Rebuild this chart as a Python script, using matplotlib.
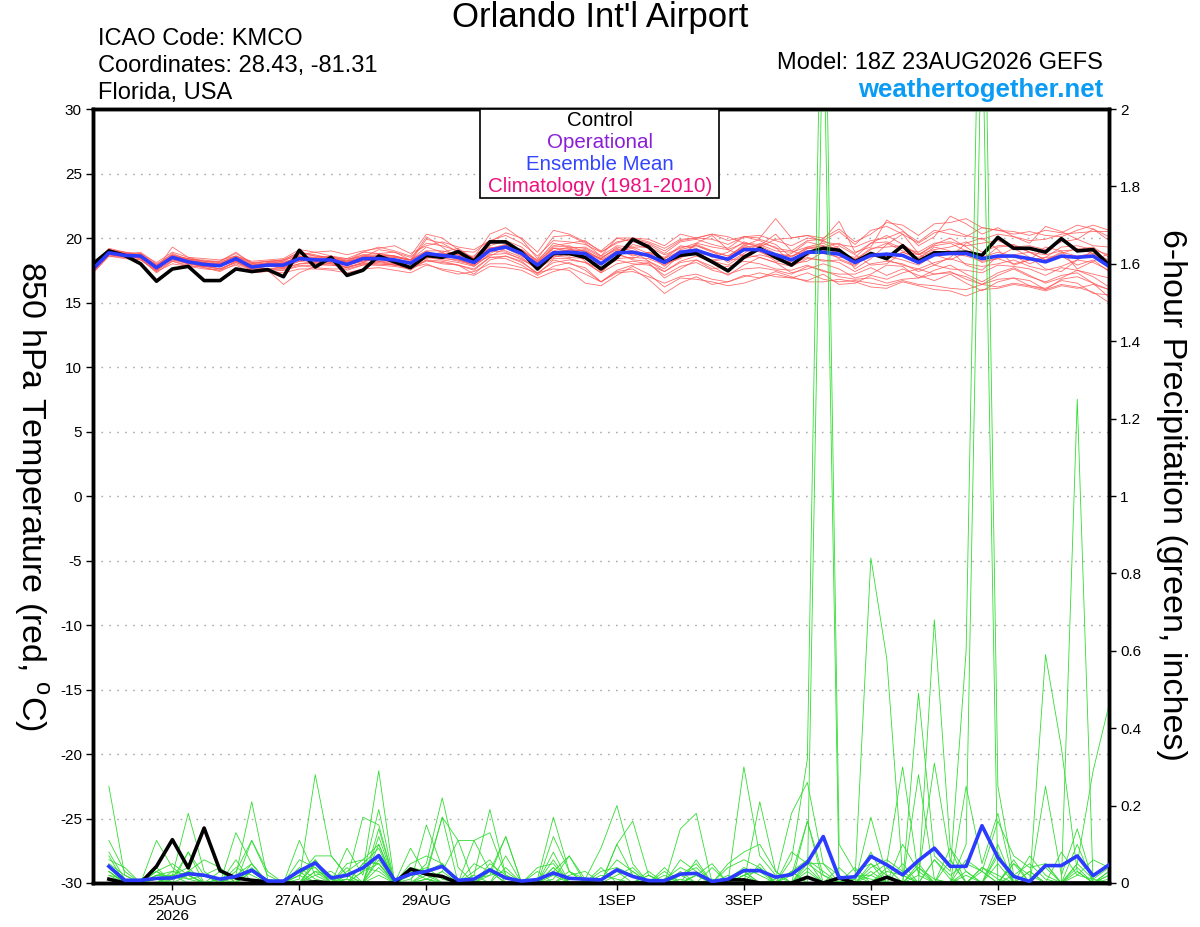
import numpy as np
import pandas as pd
import matplotlib
matplotlib.use("Agg")
import matplotlib.pyplot as plt
import matplotlib.dates as mdates

plt.rcParams['font.family'] = ['Liberation Sans', 'DejaVu Sans']

# ---------------- DATA ----------------
times = pd.date_range('2026-08-23 18:00', periods=65, freq='6h')
precip_times = times[1:]

tick_dates = ['2026-08-25', '2026-08-27', '2026-08-29', '2026-09-01',
              '2026-09-03', '2026-09-05', '2026-09-07']
tick_labels = ['25AUG\n2026', '27AUG', '29AUG', '1SEP', '3SEP', '5SEP', '7SEP']

temp_ticks = [-30, -25, -20, -15, -10, -5, 0, 5, 10, 15, 20, 25, 30]
precip_ticks = [0, 0.2, 0.4, 0.6, 0.8, 1, 1.2, 1.4, 1.6, 1.8, 2]
precip_labels = ['0', '0.2', '0.4', '0.6', '0.8', '1', '1.2', '1.4', '1.6', '1.8', '2']

# 850 hPa temperature: control and ensemble mean
temp_control = [18.0, 19.0, 18.65, 18.0, 16.65, 17.6, 17.8, 16.7, 16.7, 17.6, 17.4, 17.55, 17.0,
                19.05, 17.75, 18.5, 17.1, 17.5, 18.6, 18.15, 17.7, 18.65, 18.5, 18.95, 18.2, 19.7,
                19.7, 18.9, 17.6, 18.8, 18.8, 18.5, 17.6, 18.5, 19.9, 19.3, 18.15, 18.66, 18.8,
                18.15, 17.45, 18.5, 19.2, 18.5, 17.9, 18.85, 19.2, 19.05, 18.15, 18.8, 18.4, 19.4,
                18.2, 18.85, 18.85, 18.9, 18.65, 20.05, 19.2, 19.2, 18.9, 19.95, 19.0, 19.1, 17.9]
temp_mean = [17.6, 18.85, 18.65, 18.6, 17.7, 18.5, 18.15, 17.95, 17.85, 18.4, 17.75, 17.9, 17.9,
             18.4, 18.3, 18.3, 17.95, 18.4, 18.4, 18.3, 18.05, 18.8, 18.65, 18.5, 18.1, 19.05,
             19.3, 18.8, 17.9, 18.85, 18.9, 18.8, 18.0, 18.85, 18.9, 18.65, 18.1, 18.9, 19.05,
             18.65, 18.35, 19.1, 19.1, 18.7, 18.3, 18.9, 18.9, 18.75, 18.1, 18.65, 18.75, 18.65,
             18.1, 18.7, 18.8, 18.8, 18.4, 18.6, 18.6, 18.4, 18.15, 18.6, 18.5, 18.6, 17.8]

# 850 hPa temperature: ensemble members
temp_m01 = [17.9, 19.0, 18.9, 18.8, 17.9, 18.8, 18.3, 18.3, 18.1, 18.6, 18.0, 18.2, 18.3,
            18.9, 18.6, 18.5, 18.4, 18.9, 18.8, 18.9, 18.5, 19.6, 19.4, 19.0, 18.9, 19.8,
            20.2, 19.6, 18.6, 19.8, 19.7, 19.5, 18.9, 19.7, 19.9, 19.6, 19.0, 19.8, 20.0,
            19.9, 19.5, 20.1, 20.2, 19.8, 19.4, 20.0, 19.8, 20.5, 19.5, 20.6, 20.9, 20.3,
            19.6, 20.4, 20.7, 20.2, 19.9, 20.3, 20.1, 19.8, 19.9, 20.3, 20.4, 20.5, 20.5]
temp_m02 = [17.3, 18.6, 18.4, 18.3, 17.4, 18.0, 17.8, 17.6, 17.5, 17.9, 17.3, 17.4, 17.3,
            17.6, 17.6, 17.5, 17.3, 17.6, 17.7, 17.5, 17.3, 17.9, 17.6, 17.4, 17.1, 17.8,
            17.7, 17.5, 16.9, 17.4, 17.7, 17.2, 16.6, 17.3, 17.4, 17.0, 16.5, 17.0, 17.2,
            16.8, 16.6, 17.1, 16.9, 17.2, 16.9, 17.3, 16.8, 16.6, 16.7, 16.5, 16.3, 16.7,
            16.4, 16.3, 16.1, 16.0, 16.4, 16.2, 16.5, 16.3, 16.0, 16.4, 16.2, 15.8, 15.0]
temp_m03 = [17.7, 19.1, 18.8, 18.5, 17.6, 19.3, 18.5, 18.2, 18.2, 18.9, 18.0, 18.2, 18.0,
            18.7, 18.9, 18.6, 18.2, 18.5, 19.1, 18.9, 18.3, 20.1, 19.3, 18.4, 17.8, 18.8,
            19.4, 19.1, 18.2, 19.6, 19.3, 18.2, 17.3, 18.6, 19.5, 19.2, 18.0, 18.4, 19.6,
            20.2, 19.1, 18.6, 19.4, 20.3, 19.0, 18.6, 19.8, 19.2, 17.6, 18.4, 19.5, 20.3,
            18.8, 17.9, 18.5, 19.6, 20.0, 19.1, 17.9, 18.3, 19.3, 19.0, 17.6, 18.2, 18.8]
temp_m04 = [17.5, 18.7, 18.5, 18.7, 17.9, 18.4, 18.0, 17.8, 17.6, 18.1, 17.7, 17.6, 17.6,
            18.0, 18.1, 18.4, 18.2, 18.7, 18.2, 17.9, 18.0, 18.4, 18.8, 18.7, 18.3, 19.3,
            19.0, 18.5, 17.5, 18.6, 19.1, 19.0, 18.4, 19.3, 19.0, 18.2, 17.6, 18.7, 19.5,
            19.0, 18.1, 18.8, 19.6, 19.3, 18.0, 18.2, 18.9, 19.4, 18.7, 17.9, 18.0, 18.9,
            18.4, 19.3, 19.0, 17.9, 17.5, 18.6, 19.2, 18.5, 17.6, 17.4, 18.3, 19.0, 18.2]
temp_m05 = [17.8, 19.2, 18.9, 18.4, 17.4, 18.6, 18.4, 18.1, 17.9, 18.3, 17.6, 18.1, 18.2,
            18.3, 18.2, 18.0, 17.7, 18.1, 18.6, 18.6, 18.3, 19.0, 18.5, 18.6, 18.6, 19.6,
            19.7, 18.9, 17.6, 18.9, 18.6, 18.9, 18.4, 19.2, 18.6, 18.9, 18.5, 19.4, 19.2,
            18.5, 18.9, 19.7, 19.3, 18.4, 18.8, 19.7, 19.4, 18.7, 18.5, 19.6, 20.2, 19.5,
            18.7, 19.5, 20.0, 19.3, 18.5, 18.9, 18.6, 18.0, 18.5, 19.3, 19.4, 19.1, 18.7]
temp_m06 = [17.4, 18.9, 18.6, 18.6, 17.5, 18.3, 18.1, 17.9, 17.8, 18.5, 17.4, 17.5, 16.4,
            17.3, 17.8, 18.1, 17.5, 17.9, 18.2, 18.0, 17.5, 18.3, 18.0, 17.9, 17.2, 18.3,
            18.6, 18.2, 17.2, 18.3, 18.0, 17.7, 16.6, 17.5, 17.9, 18.1, 16.9, 17.6, 18.3,
            17.8, 17.1, 17.9, 18.5, 18.1, 17.3, 17.6, 18.0, 17.6, 16.9, 17.2, 17.9, 17.8,
            16.9, 17.5, 17.9, 17.2, 16.6, 17.3, 17.7, 17.1, 16.5, 16.9, 17.5, 17.0, 16.2]
temp_m07 = [17.6, 18.8, 18.7, 18.9, 18.0, 18.7, 18.3, 18.0, 18.1, 18.6, 18.1, 18.0, 18.2,
            18.8, 18.6, 18.5, 18.3, 18.7, 18.8, 18.6, 18.2, 19.9, 19.6, 18.9, 18.5, 20.3,
            20.8, 19.9, 18.4, 20.1, 20.2, 19.6, 18.6, 20.0, 19.7, 19.5, 18.8, 19.7, 19.9,
            19.5, 19.2, 20.1, 19.8, 19.2, 19.0, 19.8, 19.9, 21.3, 18.9, 19.3, 21.4, 20.6,
            19.4, 20.1, 21.7, 21.1, 20.3, 20.8, 20.1, 19.6, 20.9, 20.5, 19.9, 20.7, 19.8]
temp_m08 = [18.0, 19.0, 18.5, 18.3, 17.5, 18.5, 18.4, 18.2, 18.0, 18.3, 17.9, 17.9, 18.0,
            18.6, 18.4, 18.6, 18.4, 18.5, 18.6, 18.5, 18.3, 18.6, 18.9, 18.3, 18.0, 18.6,
            19.2, 18.6, 17.9, 18.5, 18.8, 18.5, 17.4, 18.4, 18.5, 18.4, 17.9, 18.5, 18.8,
            18.7, 18.3, 18.4, 18.7, 18.4, 18.0, 18.5, 18.2, 18.3, 17.8, 18.9, 18.3, 17.9,
            17.6, 18.1, 18.4, 18.0, 17.8, 18.0, 18.3, 17.8, 17.5, 17.8, 18.3, 18.1, 17.5]
temp_m09 = [17.7, 18.8, 18.6, 18.5, 17.8, 18.6, 18.2, 18.1, 17.9, 18.2, 17.6, 17.8, 17.7,
            18.2, 18.0, 17.9, 17.8, 18.0, 18.1, 17.9, 17.7, 18.2, 18.1, 17.9, 17.6, 18.5,
            18.4, 17.9, 17.1, 17.8, 18.1, 17.5, 16.6, 17.4, 17.6, 16.8, 15.7, 16.5, 17.0,
            16.4, 16.6, 17.0, 17.3, 17.0, 16.9, 16.7, 17.2, 16.4, 16.5, 17.1, 16.8, 17.3,
            17.6, 17.2, 17.4, 16.8, 16.4, 17.1, 17.6, 17.0, 16.6, 17.1, 17.3, 16.5, 16.0]
temp_m10 = [17.5, 19.0, 18.8, 18.7, 17.6, 18.5, 18.1, 17.7, 17.5, 18.2, 17.9, 17.9, 17.6,
            18.5, 18.5, 18.0, 17.9, 18.6, 18.7, 18.6, 18.3, 19.3, 18.9, 19.2, 18.4, 19.0,
            19.5, 19.1, 18.1, 19.3, 19.4, 18.9, 18.3, 19.0, 19.2, 18.5, 18.1, 19.1, 19.4,
            18.9, 18.6, 19.4, 19.9, 19.5, 18.5, 19.3, 19.6, 19.0, 18.3, 19.2, 19.3, 19.4,
            18.7, 19.1, 19.3, 19.7, 18.9, 19.4, 19.5, 18.9, 18.3, 18.8, 19.2, 18.8, 18.3]
temp_m11 = [17.8, 18.9, 18.7, 18.6, 17.8, 18.3, 18.0, 17.8, 17.8, 18.4, 17.8, 18.0, 18.1,
            18.3, 18.1, 18.2, 17.9, 18.2, 18.5, 18.0, 18.1, 18.6, 18.4, 18.3, 17.9, 19.0,
            18.9, 18.3, 17.7, 18.6, 18.5, 18.4, 17.9, 18.8, 18.3, 18.2, 17.4, 18.2, 18.6,
            18.2, 17.9, 18.7, 18.5, 18.1, 17.8, 18.4, 18.3, 18.1, 17.4, 18.0, 18.2, 18.0,
            17.4, 17.9, 17.6, 17.5, 17.3, 17.9, 17.8, 17.6, 17.1, 17.7, 17.5, 17.2, 16.9]
temp_m12 = [17.6, 19.1, 18.8, 18.7, 17.9, 18.7, 18.4, 18.2, 18.2, 18.8, 18.1, 18.2, 18.3,
            18.9, 18.7, 18.4, 18.2, 18.9, 19.3, 19.0, 18.6, 20.3, 20.0, 19.1, 18.4, 19.7,
            20.4, 20.0, 18.9, 20.6, 20.3, 19.7, 19.0, 20.0, 20.0, 19.9, 19.4, 20.3, 20.0,
            20.3, 19.8, 20.1, 20.0, 21.5, 20.0, 20.2, 20.0, 20.7, 19.7, 20.3, 21.2, 21.0,
            20.2, 21.1, 21.2, 21.5, 20.8, 20.6, 20.3, 20.5, 20.2, 20.1, 20.6, 21.0, 20.6]
temp_m13 = [17.4, 18.7, 18.6, 18.4, 17.3, 18.2, 17.9, 17.7, 17.4, 18.0, 17.5, 17.6, 17.5,
            17.9, 17.7, 17.6, 17.6, 17.9, 17.9, 18.0, 17.7, 18.0, 17.5, 17.2, 17.4, 18.0,
            18.0, 17.7, 17.3, 17.6, 17.5, 16.5, 16.3, 17.1, 17.8, 17.2, 16.2, 16.9, 16.8,
            16.6, 16.3, 16.5, 16.9, 17.4, 17.0, 16.6, 16.6, 16.8, 16.6, 16.2, 16.1, 16.6,
            16.3, 16.0, 15.9, 15.5, 16.0, 16.1, 16.4, 16.2, 15.9, 16.3, 16.1, 16.4, 16.0]
temp_m14 = [17.9, 18.9, 18.6, 18.8, 18.1, 18.9, 18.5, 18.4, 18.3, 18.6, 18.2, 18.3, 18.4,
            19.1, 18.9, 19.0, 18.7, 19.0, 19.2, 19.4, 18.8, 19.4, 19.7, 19.3, 19.1, 19.8,
            19.6, 19.0, 18.3, 19.4, 19.6, 19.8, 18.9, 19.6, 20.0, 19.7, 19.2, 19.9, 20.0,
            20.3, 20.1, 19.6, 19.3, 19.9, 20.0, 20.2, 19.7, 19.5, 19.3, 19.8, 20.0, 20.5,
            19.7, 20.6, 20.3, 20.1, 20.8, 20.6, 20.5, 20.2, 20.6, 20.4, 21.0, 20.7, 20.1]
temp_m15 = [17.5, 18.8, 18.8, 18.6, 17.7, 18.4, 18.2, 18.0, 17.8, 18.5, 17.7, 17.8, 17.8,
            18.2, 18.4, 18.3, 17.9, 18.2, 18.3, 18.4, 18.0, 18.7, 18.5, 18.2, 17.9, 19.0,
            19.3, 18.8, 17.8, 18.9, 19.1, 19.0, 18.1, 19.0, 18.7, 18.7, 17.8, 18.9, 18.9,
            18.2, 18.4, 19.3, 19.0, 18.2, 18.2, 19.2, 19.1, 18.4, 17.9, 18.8, 18.6, 18.3,
            17.9, 18.7, 18.3, 18.9, 18.1, 18.4, 18.0, 18.3, 18.5, 18.6, 17.9, 18.3, 17.4]
temp_m16 = [17.7, 18.8, 18.5, 18.5, 17.6, 18.4, 18.1, 17.9, 17.8, 18.3, 17.8, 17.8, 18.1,
            18.5, 18.4, 18.1, 18.2, 18.3, 18.2, 18.2, 18.0, 18.9, 18.7, 18.8, 18.4, 19.2,
            19.5, 19.0, 18.0, 19.2, 19.0, 19.1, 18.3, 18.7, 18.4, 18.9, 18.4, 19.0, 18.7,
            18.3, 18.5, 19.5, 18.9, 18.5, 18.6, 19.0, 18.8, 18.5, 18.4, 18.7, 18.4, 18.9,
            18.5, 19.0, 18.8, 18.6, 18.2, 18.4, 18.7, 18.9, 18.3, 18.9, 18.6, 18.8, 17.9]
temp_m17 = [17.6, 18.7, 18.6, 18.4, 17.7, 18.4, 18.0, 17.9, 17.6, 18.1, 17.6, 17.6, 17.7,
            18.0, 18.0, 18.2, 17.7, 18.0, 17.9, 17.8, 17.6, 18.5, 18.3, 18.1, 17.8, 18.7,
            18.8, 18.4, 17.6, 18.4, 18.4, 18.1, 17.6, 18.3, 18.0, 17.9, 17.4, 18.1, 18.3,
            17.6, 17.8, 18.2, 18.0, 17.6, 17.5, 17.9, 17.4, 17.2, 17.2, 17.7, 17.1, 17.6,
            17.1, 16.7, 17.2, 16.5, 15.9, 16.6, 16.9, 16.7, 16.0, 16.8, 17.0, 16.5, 15.4]
temp_m18 = [17.8, 19.0, 18.7, 18.6, 17.8, 18.6, 18.3, 18.1, 18.0, 18.5, 17.9, 18.0, 18.0,
            18.6, 18.5, 18.5, 18.1, 18.6, 18.5, 18.5, 18.3, 19.0, 19.0, 18.7, 18.3, 19.4,
            19.8, 19.3, 18.2, 19.2, 19.2, 19.3, 18.6, 19.4, 19.3, 19.3, 18.7, 19.2, 19.6,
            19.3, 19.1, 19.6, 19.5, 19.0, 18.9, 19.3, 19.3, 19.6, 18.8, 19.6, 19.7, 19.2,
            18.9, 19.6, 19.7, 19.4, 19.6, 19.8, 19.3, 19.4, 19.1, 19.7, 19.9, 19.4, 19.3]
temp_m19 = [17.3, 18.6, 18.5, 18.5, 17.5, 18.2, 17.8, 17.8, 17.6, 18.2, 17.5, 17.4, 17.5,
            17.8, 17.9, 17.9, 17.7, 18.1, 18.0, 17.9, 17.7, 18.3, 18.2, 17.9, 17.5, 18.5,
            18.6, 18.1, 17.3, 18.1, 18.3, 18.1, 17.3, 18.0, 18.2, 18.0, 17.1, 17.8, 18.1,
            17.5, 17.2, 17.6, 17.7, 17.5, 17.2, 17.8, 17.5, 17.0, 16.8, 16.9, 16.5, 16.8,
            16.9, 17.2, 17.3, 17.0, 16.4, 16.8, 16.9, 16.3, 16.1, 16.7, 16.5, 15.7, 15.6]
temp_m20 = [17.9, 19.1, 18.9, 18.7, 17.8, 18.6, 18.3, 18.0, 18.0, 18.6, 17.9, 18.1, 18.3,
            18.6, 18.2, 18.3, 18.1, 18.4, 18.7, 18.6, 18.3, 18.9, 18.6, 18.4, 18.3, 19.2,
            19.4, 18.8, 18.1, 19.0, 19.3, 19.2, 18.5, 19.1, 19.3, 18.8, 18.4, 19.3, 19.4,
            19.0, 18.6, 19.3, 19.4, 18.8, 18.6, 19.2, 19.4, 19.1, 18.3, 19.1, 19.6, 19.0,
            18.7, 19.4, 19.6, 19.0, 18.3, 19.3, 19.4, 18.9, 18.7, 19.0, 19.1, 19.3, 18.5]

temp_members = [temp_m01, temp_m02, temp_m03, temp_m04, temp_m05, temp_m06, temp_m07,
                temp_m08, temp_m09, temp_m10, temp_m11, temp_m12, temp_m13, temp_m14,
                temp_m15, temp_m16, temp_m17, temp_m18, temp_m19, temp_m20]

# 6-hour precipitation (inches): control and ensemble mean (64 steps)
precip_control = [0.01, 0.00, 0.00, 0.043, 0.112, 0.039, 0.142, 0.032, 0.013, 0.007, 0.003, 0.00, 0.00, 0.003, 0.00, 0.00,
                  0.00, 0.00, 0.00, 0.036, 0.023, 0.017, 0.00, 0.00, 0.00, 0.00, 0.00, 0.00, 0.00, 0.00, 0.00, 0.00,
                  0.00, 0.00, 0.00, 0.00, 0.00, 0.00, 0.00, 0.008, 0.008, 0.00, 0.00, 0.00, 0.015, 0.00, 0.013, 0.00,
                  0.00, 0.015, 0.00, 0.00, 0.00, 0.00, 0.00, 0.00, 0.00, 0.00, 0.00, 0.00, 0.00, 0.00, 0.00, 0.00]
precip_mean = [0.043, 0.007, 0.007, 0.012, 0.013, 0.024, 0.02, 0.01, 0.017, 0.033, 0.005, 0.005, 0.031, 0.052, 0.013, 0.02,
               0.039, 0.071, 0.007, 0.023, 0.03, 0.043, 0.007, 0.01, 0.034, 0.013, 0.005, 0.009, 0.026, 0.012, 0.01, 0.008,
               0.034, 0.017, 0.006, 0.006, 0.023, 0.025, 0.004, 0.01, 0.032, 0.032, 0.015, 0.022, 0.053, 0.12, 0.013, 0.016,
               0.069, 0.047, 0.021, 0.058, 0.09, 0.043, 0.043, 0.148, 0.066, 0.017, 0.004, 0.045, 0.045, 0.07, 0.019, 0.047]

# 6-hour precipitation: ensemble members
precip_m01 = [0.25, 0.02, 0.00, 0.03, 0.05, 0.02, 0.00, 0.01, 0.00, 0.03, 0.00, 0.00, 0.02, 0.06, 0.01, 0.00,
              0.03, 0.29, 0.00, 0.02, 0.04, 0.01, 0.00, 0.00, 0.05, 0.02, 0.00, 0.00, 0.02, 0.00, 0.00, 0.01,
              0.03, 0.00, 0.01, 0.00, 0.02, 0.05, 0.00, 0.01, 0.04, 0.02, 0.00, 0.06, 0.32, 2.70, 0.10, 0.03,
              0.05, 0.02, 0.00, 0.04, 0.01, 0.00, 0.06, 0.03, 0.00, 0.02, 0.05, 0.01, 0.00, 0.03, 0.00, 0.02]
precip_m02 = [0.11, 0.03, 0.00, 0.11, 0.04, 0.01, 0.02, 0.00, 0.13, 0.05, 0.00, 0.00, 0.01, 0.28, 0.07, 0.02,
              0.00, 0.06, 0.00, 0.01, 0.05, 0.22, 0.04, 0.00, 0.02, 0.03, 0.00, 0.00, 0.12, 0.03, 0.00, 0.01,
              0.06, 0.03, 0.00, 0.01, 0.04, 0.02, 0.00, 0.00, 0.30, 0.07, 0.02, 0.00, 0.05, 0.02, 0.00, 0.01,
              0.84, 0.58, 0.02, 0.00, 0.06, 0.01, 0.00, 0.03, 0.00, 0.05, 0.02, 0.00, 0.08, 0.02, 0.01, 0.04]
precip_m03 = [0.08, 0.01, 0.00, 0.02, 0.02, 0.18, 0.03, 0.00, 0.02, 0.21, 0.01, 0.00, 0.00, 0.05, 0.00, 0.09,
              0.02, 0.19, 0.00, 0.00, 0.15, 0.04, 0.00, 0.02, 0.19, 0.02, 0.00, 0.00, 0.03, 0.07, 0.01, 0.09,
              0.20, 0.05, 0.00, 0.02, 0.00, 0.06, 0.00, 0.01, 0.00, 0.21, 0.03, 0.00, 0.00, 2.30, 0.00, 0.02,
              0.02, 0.05, 0.30, 0.02, 0.31, 0.06, 0.00, 0.04, 0.01, 0.00, 0.07, 0.02, 0.00, 0.05, 0.01, 0.00]
precip_m04 = [0.07, 0.00, 0.01, 0.03, 0.00, 0.08, 0.02, 0.04, 0.00, 0.11, 0.03, 0.00, 0.11, 0.02, 0.00, 0.01,
              0.17, 0.15, 0.00, 0.09, 0.02, 0.17, 0.11, 0.00, 0.03, 0.12, 0.00, 0.01, 0.17, 0.03, 0.01, 0.00,
              0.10, 0.16, 0.02, 0.00, 0.01, 0.00, 0.04, 0.00, 0.03, 0.00, 0.01, 0.18, 0.26, 0.05, 0.02, 0.00,
              0.17, 0.02, 0.00, 0.49, 0.07, 0.03, 0.60, 2.80, 0.25, 0.02, 0.00, 0.05, 0.00, 0.02, 0.06, 0.04]
precip_m05 = [0.06, 0.04, 0.00, 0.00, 0.03, 0.02, 0.00, 0.00, 0.04, 0.02, 0.00, 0.00, 0.04, 0.01, 0.00, 0.00,
              0.03, 0.05, 0.00, 0.00, 0.01, 0.03, 0.11, 0.11, 0.13, 0.02, 0.00, 0.00, 0.04, 0.00, 0.00, 0.02,
              0.01, 0.00, 0.00, 0.00, 0.14, 0.18, 0.00, 0.00, 0.02, 0.04, 0.00, 0.02, 0.16, 0.02, 0.00, 0.00,
              0.00, 0.03, 0.02, 0.00, 0.68, 0.09, 0.00, 0.04, 0.02, 0.00, 0.00, 0.59, 0.35, 0.03, 0.00, 0.01]
precip_m06 = [0.04, 0.00, 0.00, 0.03, 0.01, 0.08, 0.00, 0.00, 0.00, 0.05, 0.00, 0.00, 0.02, 0.07, 0.07, 0.02,
              0.00, 0.14, 0.00, 0.00, 0.03, 0.17, 0.00, 0.01, 0.02, 0.12, 0.00, 0.00, 0.01, 0.07, 0.00, 0.00,
              0.00, 0.00, 0.03, 0.00, 0.00, 0.02, 0.00, 0.00, 0.02, 0.00, 0.00, 0.08, 0.05, 0.05, 0.00, 0.00,
              0.03, 0.00, 0.00, 0.02, 0.00, 0.00, 0.10, 2.30, 0.00, 0.00, 0.00, 0.00, 0.00, 0.00, 0.00, 0.00]
precip_m07 = [0.03, 0.00, 0.00, 0.02, 0.01, 0.03, 0.06, 0.04, 0.00, 0.03, 0.00, 0.00, 0.03, 0.04, 0.00, 0.05,
              0.06, 0.05, 0.00, 0.04, 0.03, 0.05, 0.00, 0.11, 0.03, 0.00, 0.00, 0.04, 0.05, 0.00, 0.00, 0.00,
              0.02, 0.04, 0.00, 0.01, 0.02, 0.04, 0.00, 0.05, 0.08, 0.10, 0.03, 0.00, 0.06, 0.03, 0.00, 0.02,
              0.00, 0.04, 0.00, 0.28, 0.01, 0.00, 0.25, 0.05, 0.18, 0.00, 0.03, 0.00, 0.00, 0.00, 0.00, 0.03]
precip_m08 = [0.02, 0.00, 0.00, 0.01, 0.02, 0.04, 0.00, 0.00, 0.03, 0.11, 0.02, 0.00, 0.00, 0.03, 0.02, 0.00,
              0.00, 0.04, 0.00, 0.03, 0.01, 0.00, 0.00, 0.02, 0.00, 0.00, 0.00, 0.03, 0.00, 0.02, 0.03, 0.00,
              0.10, 0.02, 0.00, 0.04, 0.00, 0.02, 0.05, 0.00, 0.02, 0.03, 0.00, 0.00, 0.04, 0.00, 0.00, 0.00,
              0.05, 0.00, 0.10, 0.03, 0.00, 0.09, 0.03, 0.00, 0.00, 0.05, 0.00, 0.25, 0.02, 0.14, 0.00, 0.00]
precip_m09 = [0.00, 0.00, 0.00, 0.01, 0.00, 0.02, 0.00, 0.03, 0.00, 0.00, 0.00, 0.00, 0.02, 0.00, 0.00, 0.01,
              0.00, 0.02, 0.00, 0.00, 0.01, 0.00, 0.00, 0.00, 0.03, 0.00, 0.00, 0.00, 0.00, 0.00, 0.00, 0.00,
              0.00, 0.00, 0.02, 0.00, 0.00, 0.00, 0.01, 0.00, 0.00, 0.00, 0.00, 0.03, 0.00, 0.00, 0.00, 0.02,
              0.01, 0.00, 0.00, 0.04, 0.00, 0.00, 0.02, 0.00, 0.00, 0.00, 0.03, 0.00, 0.00, 1.25, 0.00, 0.02]
precip_m10 = [0.02, 0.01, 0.00, 0.00, 0.02, 0.01, 0.00, 0.00, 0.06, 0.00, 0.00, 0.00, 0.03, 0.00, 0.00, 0.02,
              0.04, 0.03, 0.00, 0.00, 0.02, 0.00, 0.00, 0.00, 0.00, 0.04, 0.00, 0.00, 0.00, 0.03, 0.00, 0.00,
              0.00, 0.03, 0.00, 0.00, 0.00, 0.02, 0.00, 0.00, 0.00, 0.00, 0.00, 0.00, 0.00, 0.00, 0.00, 0.00,
              0.00, 0.00, 0.00, 0.00, 0.00, 0.00, 0.00, 0.00, 0.00, 0.00, 0.00, 0.00, 0.00, 0.05, 0.29, 0.46]
precip_m11 = [0.01, 0.00, 0.00, 0.00, 0.01, 0.03, 0.02, 0.00, 0.00, 0.04, 0.00, 0.00, 0.00, 0.02, 0.03, 0.00,
              0.00, 0.10, 0.00, 0.00, 0.00, 0.03, 0.00, 0.00, 0.00, 0.00, 0.00, 0.00, 0.08, 0.00, 0.00, 0.04,
              0.00, 0.00, 0.02, 0.00, 0.06, 0.03, 0.00, 0.00, 0.03, 0.00, 0.00, 0.00, 0.00, 0.00, 0.00, 0.01,
              0.08, 0.00, 0.00, 0.05, 0.00, 0.00, 0.00, 0.00, 0.08, 0.00, 0.00, 0.00, 0.00, 0.10, 0.00, 0.00]
precip_m12 = [0.05, 0.02, 0.00, 0.00, 0.00, 0.00, 0.00, 0.01, 0.00, 0.00, 0.00, 0.00, 0.00, 0.05, 0.00, 0.00,
              0.00, 0.07, 0.00, 0.00, 0.00, 0.00, 0.00, 0.00, 0.00, 0.00, 0.00, 0.00, 0.00, 0.00, 0.00, 0.00,
              0.00, 0.00, 0.00, 0.03, 0.00, 0.00, 0.00, 0.02, 0.00, 0.00, 0.00, 0.00, 0.16, 0.00, 0.00, 0.00,
              0.00, 0.00, 0.00, 0.00, 0.00, 0.06, 0.00, 0.00, 0.10, 0.00, 0.00, 0.00, 0.00, 0.00, 0.00, 0.00]
precip_m13 = [0.03, 0.00, 0.00, 0.04, 0.00, 0.00, 0.00, 0.00, 0.00, 0.00, 0.00, 0.00, 0.00, 0.00, 0.00, 0.04,
              0.00, 0.12, 0.00, 0.00, 0.00, 0.00, 0.00, 0.00, 0.00, 0.07, 0.00, 0.00, 0.04, 0.00, 0.00, 0.00,
              0.00, 0.00, 0.00, 0.00, 0.03, 0.00, 0.00, 0.00, 0.00, 0.05, 0.00, 0.00, 0.00, 0.00, 0.00, 0.04,
              0.00, 0.00, 0.05, 0.00, 0.00, 0.00, 0.00, 0.00, 0.05, 0.00, 0.00, 0.00, 0.00, 0.00, 0.00, 0.00]
precip_m14 = [0.00, 0.00, 0.00, 0.00, 0.00, 0.00, 0.00, 0.00, 0.00, 0.00, 0.00, 0.00, 0.00, 0.03, 0.00, 0.00,
              0.05, 0.05, 0.00, 0.02, 0.03, 0.00, 0.00, 0.00, 0.00, 0.00, 0.00, 0.00, 0.03, 0.00, 0.00, 0.00,
              0.00, 0.00, 0.00, 0.00, 0.00, 0.00, 0.00, 0.00, 0.00, 0.00, 0.00, 0.03, 0.00, 0.00, 0.00, 0.00,
              0.02, 0.00, 0.00, 0.00, 0.00, 0.00, 0.00, 0.00, 0.00, 0.06, 0.00, 0.04, 0.00, 0.00, 0.00, 0.00]
precip_m15 = [0.03, 0.00, 0.00, 0.02, 0.03, 0.02, 0.00, 0.00, 0.02, 0.05, 0.00, 0.00, 0.06, 0.04, 0.00, 0.00,
              0.05, 0.09, 0.00, 0.05, 0.07, 0.05, 0.00, 0.03, 0.06, 0.00, 0.00, 0.00, 0.06, 0.00, 0.00, 0.03,
              0.04, 0.02, 0.00, 0.00, 0.02, 0.00, 0.00, 0.04, 0.06, 0.04, 0.00, 0.03, 0.06, 0.00, 0.04, 0.00,
              0.04, 0.06, 0.03, 0.00, 0.06, 0.02, 0.05, 0.03, 0.16, 0.07, 0.04, 0.05, 0.00, 0.04, 0.00, 0.03]
precip_m16 = [0.00, 0.00, 0.00, 0.00, 0.02, 0.00, 0.00, 0.00, 0.00, 0.00, 0.00, 0.00, 0.00, 0.06, 0.00, 0.03,
              0.06, 0.10, 0.00, 0.00, 0.00, 0.00, 0.00, 0.05, 0.03, 0.00, 0.00, 0.00, 0.00, 0.00, 0.00, 0.00,
              0.00, 0.00, 0.00, 0.00, 0.00, 0.00, 0.00, 0.00, 0.00, 0.00, 0.00, 0.00, 0.03, 0.00, 0.00, 0.00,
              0.00, 0.00, 0.00, 0.00, 0.00, 0.00, 0.03, 0.00, 0.07, 0.00, 0.00, 0.00, 0.00, 0.00, 0.00, 0.00]

precip_members = [precip_m01, precip_m02, precip_m03, precip_m04, precip_m05, precip_m06,
                  precip_m07, precip_m08, precip_m09, precip_m10, precip_m11, precip_m12,
                  precip_m13, precip_m14, precip_m15, precip_m16]

legend_items = ['Control', 'Operational', 'Ensemble Mean', 'Climatology (1981-2010)']
legend_colors = ['#000000', '#8A1ED8', '#3344FF', '#EE1080']

# ---------------- PLOT ----------------
W, H = 1200, 927
fig = plt.figure(figsize=(W / 100, H / 100), dpi=100)
L, R, T, B = 93, 1109, 109, 883
ax = fig.add_axes([L / W, 1 - B / H, (R - L) / W, (B - T) / H])
ax2 = ax.twinx()

RED = '#FF5555'
GREEN = '#33DD33'
BLUE = '#2B3BFF'

for m in temp_members:
    ax.plot(times, m, color=RED, lw=0.6, alpha=0.85, zorder=2)
ax.plot(times, temp_control, color='black', lw=2.6, zorder=4)
ax.plot(times, temp_mean, color=BLUE, lw=2.6, zorder=5)

for m in precip_members:
    ax2.plot(precip_times, m, color=GREEN, lw=0.6, zorder=2)
ax2.plot(precip_times, precip_control, color='black', lw=2.6, zorder=4)
ax2.plot(precip_times, precip_mean, color=BLUE, lw=2.6, zorder=5)

ax.set_ylim(-30, 30)
ax2.set_ylim(0, 2)
ax.set_xlim(times[0], times[-1])

ax.set_yticks(temp_ticks)
ax.set_yticklabels([str(t) for t in temp_ticks])
ax2.set_yticks(precip_ticks)
ax2.set_yticklabels(precip_labels)
ax.set_xticks([pd.Timestamp(d) for d in tick_dates])
ax.set_xticklabels(tick_labels, linespacing=1.05)

for g in temp_ticks[1:-1]:
    ax.axhline(g, color='#AAAAAA', lw=1.0, ls=(0, (1.2, 4.5)), zorder=1)

for a in (ax, ax2):
    for s in a.spines.values():
        s.set_linewidth(2.5)
ax.tick_params(axis='both', direction='out', length=5, width=1, labelsize=11, pad=3)
ax2.tick_params(axis='y', direction='out', length=5, width=1, labelsize=11, pad=3)

fig.text(0.5, 1 - 18 / H, "Orlando Int'l Airport", ha='center', va='center', fontsize=25)
fig.text(98 / W, 1 - 39 / H, "ICAO Code: KMCO", ha='left', va='center', fontsize=17)
fig.text(98 / W, 1 - 66 / H, "Coordinates: 28.43, -81.31", ha='left', va='center', fontsize=17)
fig.text(98 / W, 1 - 93 / H, "Florida, USA", ha='left', va='center', fontsize=17)
fig.text(1103 / W, 1 - 63 / H, "Model: 18Z 23AUG2026 GEFS", ha='right', va='center', fontsize=17)
fig.text(1103 / W, 1 - 90 / H, "weathertogether.net", ha='right', va='center', fontsize=18.5,
         fontweight='bold', color='#0A9BF5')

fig.text(31 / W, 1 - 496 / H, "850 hPa Temperature (red, $^\\mathregular{o}$C)", rotation=270,
         ha='center', va='center', fontsize=24.5)
fig.text(1172 / W, 1 - 495 / H, "6-hour Precipitation (green, inches)", rotation=270,
         ha='center', va='center', fontsize=24.5)

# legend box
lx0, lx1, ly0, ly1 = 480, 719, 109, 198
box = plt.Rectangle((lx0 / W, 1 - ly1 / H), (lx1 - lx0) / W, (ly1 - ly0) / H,
                    transform=fig.transFigure, facecolor='white', edgecolor='black', lw=1.2, zorder=10)
fig.add_artist(box)
for k, (txt, c) in enumerate(zip(legend_items, legend_colors)):
    fig.text(600 / W, 1 - (121 + 21.7 * k) / H, txt, ha='center', va='center', fontsize=14.8,
             color=c, zorder=11)

fig.savefig('out.png', dpi=100)
